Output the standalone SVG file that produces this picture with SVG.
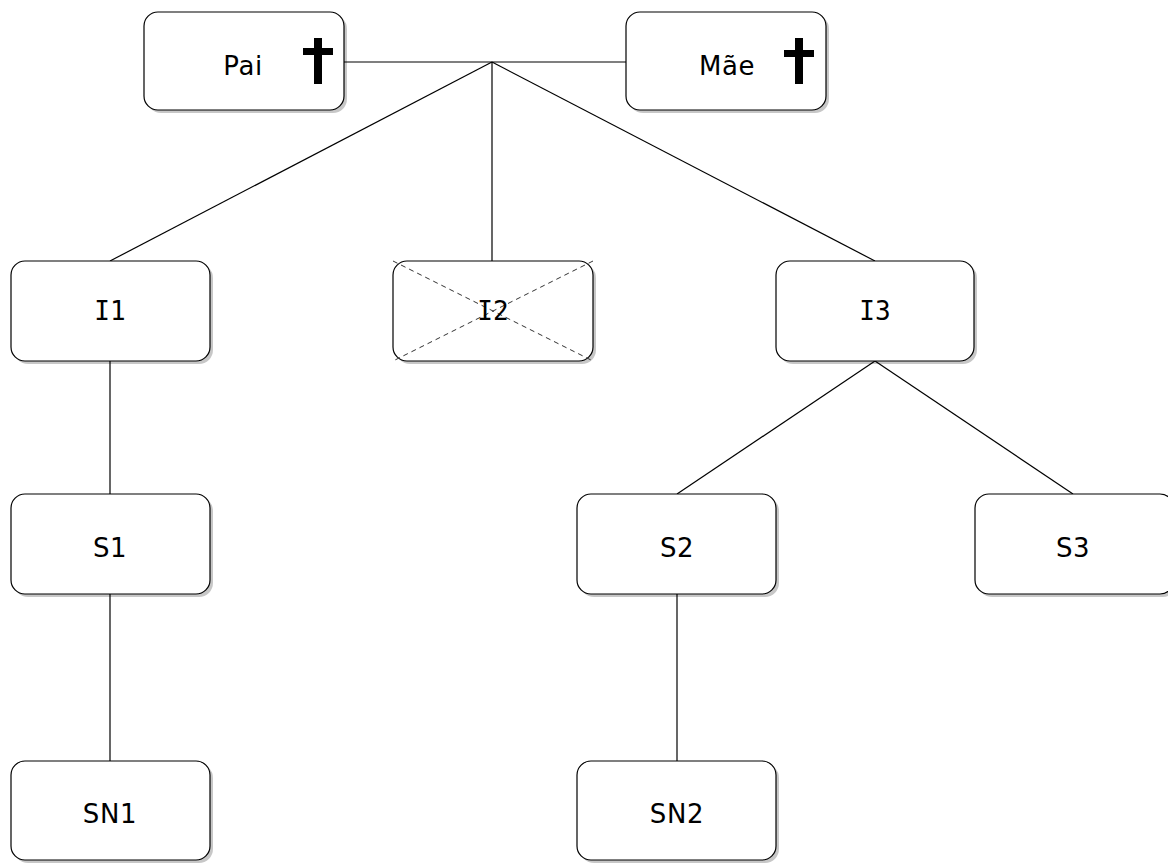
<svg xmlns="http://www.w3.org/2000/svg" width="1168" height="864" viewBox="0 0 1168 864">
<style>
.box{fill:#fff;stroke:#000;stroke-width:1.2}
.sh{fill:#000;opacity:0.22}
.lbl{font-family:"DejaVu Sans",Verdana,sans-serif;font-size:26px;letter-spacing:0.6px;fill:#000;text-anchor:middle}
.mono{font-family:"DejaVu Sans Mono","Liberation Mono",monospace;font-size:26px;fill:#000;text-anchor:middle}
.edge{stroke:#000;stroke-width:1.2;fill:none}
.x{stroke:#333;stroke-width:1;stroke-dasharray:5 4;fill:none}
.dag{fill:#000}
</style>
<rect width="1168" height="864" fill="#fff"/>
<g id="connectors">
<line class="edge" x1="344" y1="62" x2="626" y2="62"/>
<line class="edge" x1="492" y1="62" x2="110" y2="261"/>
<line class="edge" x1="492" y1="62" x2="492" y2="261"/>
<line class="edge" x1="492" y1="62" x2="875" y2="261"/>
<line class="edge" x1="110" y1="361" x2="110" y2="494"/>
<line class="edge" x1="110" y1="594" x2="110" y2="761"/>
<line class="edge" x1="875" y1="361" x2="677" y2="494"/>
<line class="edge" x1="875" y1="361" x2="1073" y2="494"/>
<line class="edge" x1="677" y1="594" x2="677" y2="761"/>
</g>
<g id="pai">
<rect class="sh" x="147" y="15" width="200" height="98" rx="14"/>
<rect class="box" x="144" y="12" width="200" height="98" rx="14"/>
<text class="lbl" x="243" y="75">Pai</text>
<rect class="dag" x="314" y="38" width="8" height="46"/>
<rect class="dag" x="303" y="48" width="30" height="7"/>
</g>
<g id="mae">
<rect class="sh" x="629" y="15" width="200" height="98" rx="14"/>
<rect class="box" x="626" y="12" width="200" height="98" rx="14"/>
<text class="lbl" x="727" y="75">Mãe</text>
<rect class="dag" x="795" y="38" width="8" height="46"/>
<rect class="dag" x="784" y="50" width="30" height="7"/>
</g>
<g id="i1">
<rect class="sh" x="14" y="264" width="199" height="100" rx="14"/>
<rect class="box" x="11" y="261" width="199" height="100" rx="14"/>
<text class="mono" x="110" y="320">I1</text>
</g>
<g id="i2">
<rect class="sh" x="396" y="264" width="200" height="100" rx="14"/>
<rect class="box" x="393" y="261" width="200" height="100" rx="14"/>
<line class="x" x1="393" y1="261" x2="593" y2="361"/>
<line class="x" x1="593" y1="261" x2="393" y2="361"/>
<text class="mono" x="493" y="320">I2</text>
</g>
<g id="i3">
<rect class="sh" x="779" y="264" width="198" height="100" rx="14"/>
<rect class="box" x="776" y="261" width="198" height="100" rx="14"/>
<text class="mono" x="875" y="320">I3</text>
</g>
<g id="s1">
<rect class="sh" x="14" y="497" width="199" height="100" rx="14"/>
<rect class="box" x="11" y="494" width="199" height="100" rx="14"/>
<text class="lbl" x="110" y="557">S1</text>
</g>
<g id="s2">
<rect class="sh" x="580" y="497" width="199" height="100" rx="14"/>
<rect class="box" x="577" y="494" width="199" height="100" rx="14"/>
<text class="lbl" x="677" y="557">S2</text>
</g>
<g id="s3">
<rect class="sh" x="978" y="497" width="199" height="100" rx="14"/>
<rect class="box" x="975" y="494" width="199" height="100" rx="14"/>
<text class="lbl" x="1073" y="557">S3</text>
</g>
<g id="sn1">
<rect class="sh" x="14" y="764" width="199" height="99" rx="14"/>
<rect class="box" x="11" y="761" width="199" height="99" rx="14"/>
<text class="lbl" x="110" y="823">SN1</text>
</g>
<g id="sn2">
<rect class="sh" x="580" y="764" width="199" height="99" rx="14"/>
<rect class="box" x="577" y="761" width="199" height="99" rx="14"/>
<text class="lbl" x="677" y="823">SN2</text>
</g>
</svg>
